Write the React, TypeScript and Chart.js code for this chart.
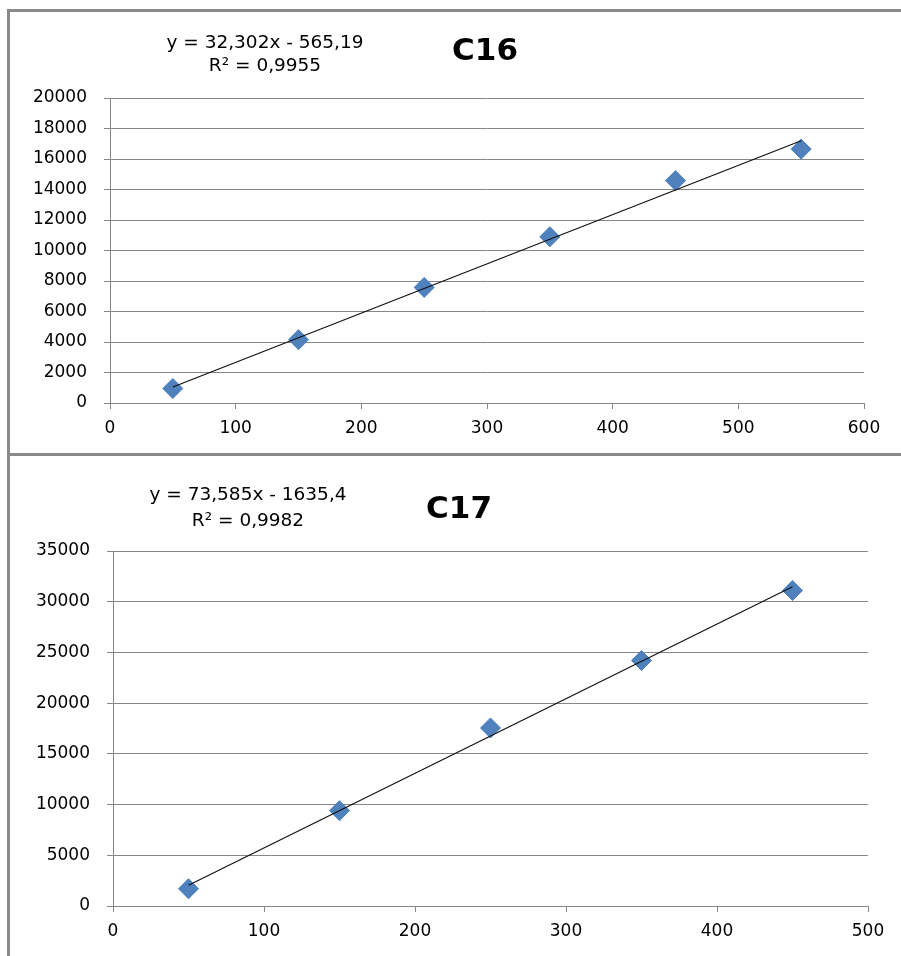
import React, { useEffect, useRef } from "react";
import { Chart, registerables } from "chart.js";

Chart.register(...registerables);

// ---- C16 data ----
const c16X = [50, 150, 250, 350, 450, 550];
const c16Y = [950, 4150, 7580, 10900, 14580, 16650];
const c16Slope = 32.302;
const c16Intercept = -565.19;
const c16Equation = ["y = 32,302x - 565,19", "R² = 0,9955"];
const c16Title = "C16";
const c16XTicks = [0, 100, 200, 300, 400, 500, 600];
const c16YTicks = [0, 2000, 4000, 6000, 8000, 10000, 12000, 14000, 16000, 18000, 20000];

// ---- C17 data ----
const c17X = [50, 150, 250, 350, 450];
const c17Y = [1700, 9400, 17550, 24200, 31100];
const c17Slope = 73.585;
const c17Intercept = -1635.4;
const c17Equation = ["y = 73,585x - 1635,4", "R² = 0,9982"];
const c17Title = "C17";
const c17XTicks = [0, 100, 200, 300, 400, 500];
const c17YTicks = [0, 5000, 10000, 15000, 20000, 25000, 30000, 35000];

const GRID = "#878787";
const FONT = "'DejaVu Sans', sans-serif";

type Cfg = {
  xs: number[];
  ys: number[];
  slope: number;
  intercept: number;
  eq: string[];
  title: string;
  xTicks: number[];
  yTicks: number[];
  height: number;
  padTop: number;
  padRight: number;
  yWidth: number;
  eqX: number;
  eqY: number[];
  titleX: number;
  titleY: number;
};

const textPlugin = {
  id: "texts",
  afterDraw(chart: any) {
    const o = chart.options.plugins.texts;
    if (!o) return;
    const ctx = chart.ctx;
    ctx.save();
    ctx.fillStyle = "#000";
    ctx.textAlign = "center";
    ctx.textBaseline = "middle";
    ctx.font = `18.5px ${FONT}`;
    o.eq.forEach((t: string, i: number) => ctx.fillText(t, o.eqX, o.eqY[i]));
    ctx.font = `bold 31px ${FONT}`;
    ctx.fillText(o.title, o.titleX, o.titleY);
    ctx.restore();
  },
};

function ScatterChart({ cfg }: { cfg: Cfg }) {
  const ref = useRef<HTMLCanvasElement | null>(null);
  useEffect(() => {
    if (!ref.current) return;
    const xMin = cfg.xs[0];
    const xMax = cfg.xs[cfg.xs.length - 1];
    const chart = new Chart(ref.current, {
      type: "scatter",
      data: {
        datasets: [
          {
            type: "line",
            data: [
              { x: xMin, y: cfg.slope * xMin + cfg.intercept },
              { x: xMax, y: cfg.slope * xMax + cfg.intercept },
            ],
            borderColor: "#111",
            borderWidth: 1.2,
            pointRadius: 0,
            fill: false,
            order: 0,
          } as any,
          {
            data: cfg.xs.map((x, i) => ({ x, y: cfg.ys[i] })),
            pointStyle: "rectRot",
            pointRadius: 10,
            backgroundColor: "#4F81BD",
            borderColor: "#4A7EBB",
            borderWidth: 1,
            order: 1,
          },
        ],
      },
      options: {
        animation: false,
        responsive: false,
        maintainAspectRatio: false,
        layout: { padding: { top: cfg.padTop, right: cfg.padRight, left: 0, bottom: 0 } },
        plugins: {
          legend: { display: false },
          tooltip: { enabled: false },
          texts: cfg,
        } as any,
        scales: {
          x: {
            type: "linear",
            min: cfg.xTicks[0],
            max: cfg.xTicks[cfg.xTicks.length - 1],
            afterBuildTicks: (s: any) => {
              s.ticks = cfg.xTicks.map((v) => ({ value: v }));
            },
            afterFit: (s: any) => {
              s.height = 50;
            },
            grid: { drawOnChartArea: false, drawTicks: true, tickLength: 6, color: GRID },
            border: { color: GRID, width: 1 },
            ticks: { color: "#000", font: { family: FONT, size: 17 }, padding: 9, callback: (v: any) => String(v) },
          },
          y: {
            type: "linear",
            min: cfg.yTicks[0],
            max: cfg.yTicks[cfg.yTicks.length - 1],
            afterBuildTicks: (s: any) => {
              s.ticks = cfg.yTicks.map((v) => ({ value: v }));
            },
            afterFit: (s: any) => {
              s.width = cfg.yWidth;
            },
            grid: { drawOnChartArea: true, drawTicks: true, tickLength: 6, color: GRID },
            border: { color: GRID, width: 1 },
            ticks: { color: "#000", font: { family: FONT, size: 17 }, padding: 17, callback: (v: any) => String(v) },
          },
        },
      },
      plugins: [textPlugin],
    } as any);
    return () => chart.destroy();
  }, [cfg]);
  return <canvas ref={ref} width={891} height={cfg.height} style={{ display: "block" }} />;
}

const cfgTop: Cfg = {
  xs: c16X,
  ys: c16Y,
  slope: c16Slope,
  intercept: c16Intercept,
  eq: c16Equation,
  title: c16Title,
  xTicks: c16XTicks,
  yTicks: c16YTicks,
  height: 441,
  padTop: 86,
  padRight: 37,
  yWidth: 100,
  eqX: 255,
  eqY: [31, 54],
  titleX: 475,
  titleY: 40,
};

const cfgBottom: Cfg = {
  xs: c17X,
  ys: c17Y,
  slope: c17Slope,
  intercept: c17Intercept,
  eq: c17Equation,
  title: c17Title,
  xTicks: c17XTicks,
  yTicks: c17YTicks,
  height: 500,
  padTop: 95,
  padRight: 33,
  yWidth: 103,
  eqX: 238,
  eqY: [39, 65],
  titleX: 449,
  titleY: 54,
};

export default function App() {
  return (
    <div style={{ position: "fixed", left: 0, top: 0, width: 901, height: 956, background: "#fff", overflow: "hidden" }}>
      <div
        style={{
          position: "absolute",
          left: 7,
          top: 9,
          width: 920,
          height: 447,
          boxSizing: "border-box",
          borderTop: "3px solid #8a8a8a",
          borderLeft: "3px solid #8a8a8a",
          borderBottom: "3px solid #8a8a8a",
        }}
      />
      <div
        style={{
          position: "absolute",
          left: 7,
          top: 456,
          width: 920,
          height: 520,
          boxSizing: "border-box",
          borderLeft: "3px solid #8a8a8a",
        }}
      />
      <div style={{ position: "absolute", left: 10, top: 12 }}>
        <ScatterChart cfg={cfgTop} />
      </div>
      <div style={{ position: "absolute", left: 10, top: 456 }}>
        <ScatterChart cfg={cfgBottom} />
      </div>
    </div>
  );
}
